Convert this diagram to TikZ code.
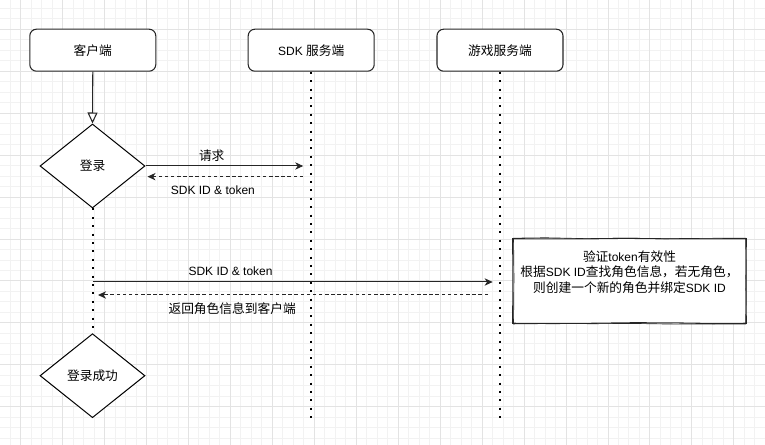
\documentclass[tikz,border=0pt]{standalone}
\usepackage{fontspec}
\setmainfont{Liberation Sans}
\newfontfamily\cjk[Scale=1.06]{Noto Sans CJK SC}
\usetikzlibrary{arrows.meta,shapes.geometric,decorations.pathmorphing}

\tikzset{
  minorgrid/.style={draw=black!5, line width=0.75pt},
  majorgrid/.style={draw=black!11, line width=0.75pt},
  actor/.style={draw=black!85, fill=white, rounded corners=5pt, line width=0.8pt,
    minimum width=94.5pt, minimum height=31.5pt, inner sep=0pt},
  decision/.style={draw=black, fill=white, diamond, line width=0.75pt,
    minimum width=78.75pt, minimum height=63pt, inner sep=0pt},
  lifeline/.style={line width=1.5pt, dash pattern=on 1.5pt off 4.8pt},
  opentip/.style={draw=black!85, line width=0.8pt, -{Triangle[open,length=8.25pt,width=7.5pt]}},
  msg/.style={draw=black!85, line width=0.75pt, -{Stealth[length=6pt,width=5.5pt,inset=1.8pt]}},
  reply/.style={msg, dash pattern=on 2.6pt off 2pt},
  msglabel/.style={inner sep=0pt},
  sketchbox/.style={fill=white, minimum width=174.75pt, minimum height=63pt, inner sep=0pt},
  sketchline/.style={draw=black!85, line width=0.8pt, decorate,
    decoration={random steps, segment length=30pt, amplitude=0.4pt}},
}

\begin{document}
\begin{tikzpicture}[x=0.75pt, y=-0.75pt, font=\fontsize{9}{11}\selectfont]
  \useasboundingbox (0,0) rectangle (765,445);
  \fill[white] (0,0) rectangle (765,445);

  % background grid
  \begin{scope}
    \clip (0,0) rectangle (765,445);
    \foreach \i in {-2,...,72}
      \draw[minorgrid] ({20.7+\i*10.4875},0) -- ({20.7+\i*10.4875},445);
    \foreach \i in {-3,...,40}
      \draw[minorgrid] (0,{29.3+\i*10.4875}) -- (765,{29.3+\i*10.4875});
    \foreach \i in {0,...,18}
      \draw[majorgrid] ({20.7+\i*41.95},0) -- ({20.7+\i*41.95},445);
    \foreach \i in {0,...,10}
      \draw[majorgrid] (0,{29.3+\i*41.95}) -- (765,{29.3+\i*41.95});
  \end{scope}

  % participants
  \node[actor] (client) at (92.8,50.2) {\cjk 客户端};
  \node[actor] (sdk) at (311.2,50.2) {SDK {\cjk 服务端}};
  \node[actor] (game) at (500,50.2) {\cjk 游戏服务端};

  \node[decision] (login) at (92.5,166) {\cjk 登录};
  \node[decision] (done) at (92.5,375.7) {\cjk 登录成功};

  % lifelines
  \coordinate (sdkend) at (sdk.south |- done.south);
  \coordinate (gameend) at (game.south |- done.south);
  \draw[lifeline] (sdk.south) -- (sdkend);
  \draw[lifeline] (game.south) -- (gameend);
  \draw[lifeline] (login.south) -- (done.north);
  \draw[opentip] (client.south) -- (login.north);

  % messages
  \coordinate (reqend) at ([xshift=-6pt]sdk.south |- login.east);
  \coordinate (tokstart) at ([xshift=-6pt,yshift=-8pt]sdk.south |- login.east);
  \coordinate (tokend) at ([xshift=1.5pt,yshift=-8pt]login.east);
  \draw[msg] (login.east) -- node[msglabel, pos=.42, yshift=7.5pt] {\cjk 请求} (reqend);
  \draw[reply] (tokstart) -- node[msglabel, pos=.58, yshift=-10.5pt] {SDK ID \& token} (tokend);

  \coordinate (idstart) at (92.5,282);
  \coordinate (idend) at ([xshift=-5.5pt]game.south |- idstart);
  \coordinate (rolestart) at ([xshift=-9pt]game.south |- 0,295);
  \coordinate (roleend) at (98,295);
  \draw[msg] (idstart) -- node[msglabel, pos=.345, yshift=8.25pt] {SDK ID \& token} (idend);
  \draw[reply] (rolestart) -- node[msglabel, pos=.656, yshift=-10pt] {\cjk 返回角色信息到客户端} (roleend);

  % note box
  \node[sketchbox] (check) at (629.5,281) {\parbox[c][63pt][t]{174.75pt}{\centering
    \fontsize{9}{11.6}\selectfont\vspace*{8.5pt}%
    {\cjk 验证}token{\cjk 有效性}\\
    {\cjk 根据}SDK ID{\cjk 查找角色信息，若无角色，}\\
    {\cjk 则创建一个新的角色并绑定}SDK ID}};
  \pgfmathsetseed{7}
  \draw[sketchline] (check.north west) rectangle (check.south east);
  \draw[sketchline, line width=0.5pt] ([shift={(0.6pt,0.4pt)}]check.north west) rectangle ([shift={(-0.4pt,-0.5pt)}]check.south east);
\end{tikzpicture}
\end{document}
